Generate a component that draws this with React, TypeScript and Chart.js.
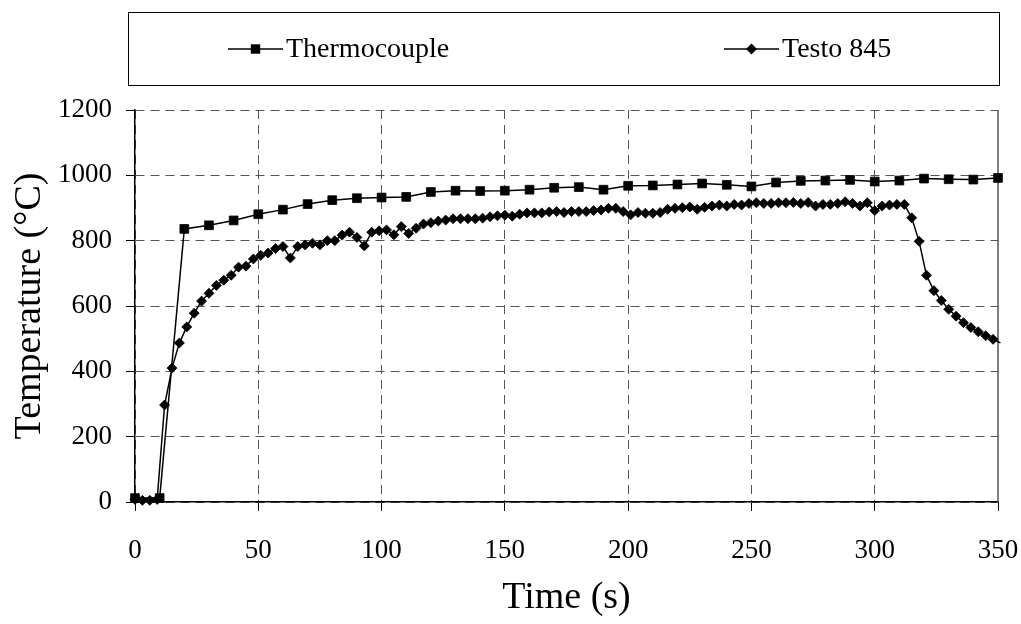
import { useEffect, useRef } from 'react';
import { Chart, registerables } from 'chart.js';

Chart.register(...registerables);

// Thermocouple readings (time in s, temperature in °C)
const thermoTime = [0, 10, 20, 30, 40, 50, 60, 70, 80, 90, 100, 110, 120, 130, 140, 150, 160, 170, 180, 190, 200, 210, 220, 230, 240, 250, 260, 270, 280, 290, 300, 310, 320, 330, 340, 350];
const thermoTemp = [12, 12, 836, 847, 862, 881, 895, 912, 924, 930, 932, 934, 949, 953, 952, 953, 956, 962, 964, 956, 968, 969, 972, 975, 971, 966, 978, 983, 984, 986, 981, 984, 990, 988, 987, 992];

// Testo 845 readings
const testoTime = [0, 3, 6, 9, 12, 15, 18, 21, 24, 27, 30, 33, 36, 39, 42, 45, 48, 51, 54, 57, 60, 63, 66, 69, 72, 75, 78, 81, 84, 87, 90, 93, 96, 99, 102, 105, 108, 111, 114, 117, 120, 123, 126, 129, 132, 135, 138, 141, 144, 147, 150, 153, 156, 159, 162, 165, 168, 171, 174, 177, 180, 183, 186, 189, 192, 195, 198, 201, 204, 207, 210, 213, 216, 219, 222, 225, 228, 231, 234, 237, 240, 243, 246, 249, 252, 255, 258, 261, 264, 267, 270, 273, 276, 279, 282, 285, 288, 291, 294, 297, 300, 303, 306, 309, 312, 315, 318, 321, 324, 327, 330, 333, 336, 339, 342, 345, 348, 351];
const testoTemp = [8, 5, 5, 8, 297, 410, 487, 536, 578, 615, 639, 663, 679, 694, 719, 722, 744, 755, 762, 776, 782, 747, 782, 787, 792, 787, 800, 800, 817, 826, 810, 784, 826, 830, 833, 818, 843, 822, 838, 851, 855, 860, 863, 867, 867, 867, 867, 869, 873, 876, 878, 875, 881, 885, 885, 885, 888, 889, 886, 889, 889, 889, 892, 894, 899, 899, 889, 879, 886, 884, 884, 886, 896, 899, 901, 903, 896, 902, 906, 909, 906, 911, 909, 914, 916, 914, 914, 916, 916, 917, 914, 917, 906, 911, 911, 914, 919, 914, 906, 916, 892, 906, 909, 911, 911, 870, 798, 694, 647, 617, 590, 569, 549, 534, 521, 509, 498, 487];

const xMin = 0;
const xMax = 350;
const xStep = 50;
const yMin = 0;
const yMax = 1200;
const yStep = 200;

const seriesLabels = ['Thermocouple', 'Testo 845'];
const xTitle = 'Time (s)';
const yTitle = 'Temperature (°C)';

const FONT = '"Liberation Serif", "Times New Roman", serif';

export default function App() {
  const ref = useRef<HTMLCanvasElement | null>(null);

  useEffect(() => {
    document.body.style.margin = '0';
    const canvas = ref.current;
    if (!canvas) return;

    const drawMarker = (ctx: CanvasRenderingContext2D, style: string, x: number, y: number) => {
      ctx.fillStyle = '#000';
      ctx.beginPath();
      if (style === 'rect') {
        ctx.rect(x - 4.7, y - 4.7, 9.4, 9.4);
      } else {
        ctx.moveTo(x, y - 5.4);
        ctx.lineTo(x + 5.4, y);
        ctx.lineTo(x, y + 5.4);
        ctx.lineTo(x - 5.4, y);
        ctx.closePath();
      }
      ctx.fill();
    };

    const legendBox = {
      id: 'legendBox',
      afterDraw(chart: any) {
        const ctx = chart.ctx as CanvasRenderingContext2D;
        ctx.save();
        ctx.strokeStyle = '#000';
        ctx.lineWidth = 1;
        ctx.strokeRect(128.5, 12.5, 871, 73);
        const entries = [
          { x0: 228, x1: 283, tx: 286 },
          { x0: 724, x1: 779, tx: 782 },
        ];
        const y = 49;
        chart.data.datasets.forEach((ds: any, i: number) => {
          const e = entries[i];
          ctx.strokeStyle = '#000';
          ctx.lineWidth = 1.5;
          ctx.beginPath();
          ctx.moveTo(e.x0, y);
          ctx.lineTo(e.x1, y);
          ctx.stroke();
          drawMarker(ctx, ds.pointStyle, (e.x0 + e.x1) / 2, y);
          ctx.fillStyle = '#000';
          ctx.font = `28px ${FONT}`;
          ctx.textBaseline = 'middle';
          ctx.textAlign = 'left';
          ctx.fillText(ds.label, e.tx, y + 1);
        });
        ctx.restore();
      },
    };

    const rightEdge = {
      id: 'rightEdge',
      beforeDatasetsDraw(chart: any) {
        const { ctx, chartArea } = chart;
        ctx.save();
        ctx.strokeStyle = '#555';
        ctx.lineWidth = 1.5;
        ctx.beginPath();
        ctx.moveTo(chartArea.right, chartArea.top);
        ctx.lineTo(chartArea.right, chartArea.bottom);
        ctx.stroke();
        ctx.restore();
      },
    };

    const chart = new Chart(canvas, {
      type: 'line',
      data: {
        datasets: [
          {
            label: seriesLabels[0],
            data: thermoTime.map((t, i) => ({ x: t, y: thermoTemp[i] })),
            borderColor: '#000',
            backgroundColor: '#000',
            borderWidth: 1.5,
            pointStyle: 'rect',
            pointRadius: 6.2,
            pointBorderWidth: 0.8,
            pointBorderColor: '#000',
            pointBackgroundColor: '#000',
            tension: 0,
            clip: 10,
          },
          {
            label: seriesLabels[1],
            data: testoTime.map((t, i) => ({ x: t, y: testoTemp[i] })),
            borderColor: '#000',
            backgroundColor: '#000',
            borderWidth: 1.5,
            pointStyle: 'rectRot',
            pointRadius: testoTime.map((t) => (t > xMax ? 0 : 5)),
            pointBorderWidth: 0.8,
            pointBorderColor: '#000',
            pointBackgroundColor: '#000',
            tension: 0,
            clip: { left: 10, top: 10, bottom: 10, right: 4 },
          },
        ],
      },
      options: {
        animation: false,
        responsive: false,
        devicePixelRatio: 1,
        events: [],
        layout: { padding: { top: 110, right: 23, left: 0, bottom: 0 } },
        plugins: {
          legend: { display: false },
          tooltip: { enabled: false },
        },
        scales: {
          x: {
            type: 'linear',
            min: xMin,
            max: xMax,
            afterFit(scale: any) {
              scale.height = 122;
              scale.paddingLeft = 0;
              scale.paddingRight = 0;
            },
            ticks: {
              stepSize: xStep,
              color: '#000',
              font: { family: FONT, size: 27 },
              padding: 24,
              maxRotation: 0,
              callback: (v: any) => String(v),
            },
            grid: {
              color: (c: any) => (c.tick && c.tick.value === xMax ? 'rgba(0,0,0,0)' : '#555'),
              lineWidth: 1,
              tickLength: 9,
              tickColor: '#000',
              tickBorderDash: [],
              tickWidth: 1,
            },
            border: { display: true, color: '#000', width: 1.5, dash: [9, 6] },
            title: {
              display: true,
              text: xTitle,
              color: '#000',
              font: { family: FONT, size: 38 },
              padding: { top: 0, bottom: 3 },
            },
          },
          y: {
            type: 'linear',
            min: yMin,
            max: yMax,
            afterFit(scale: any) {
              scale.width = 135;
              scale.paddingTop = 0;
              scale.paddingBottom = 0;
            },
            ticks: {
              stepSize: yStep,
              color: '#000',
              font: { family: FONT, size: 27 },
              padding: 14,
              callback: (v: any) => String(v),
            },
            grid: {
              color: '#555',
              lineWidth: 1,
              tickLength: 9,
              tickColor: '#000',
              tickBorderDash: [],
              tickWidth: 1,
            },
            border: { display: true, color: '#000', width: 1.5, dash: [9, 6] },
            title: {
              display: true,
              text: yTitle,
              color: '#000',
              font: { family: FONT, size: 38 },
              padding: { top: 7, bottom: 0 },
            },
          },
        },
      },
      plugins: [legendBox, rightEdge],
    });

    return () => chart.destroy();
  }, []);

  return (
    <div style={{ position: 'fixed', left: 0, top: 0, width: 1021, height: 624, background: '#fff' }}>
      <canvas ref={ref} width={1021} height={624} style={{ width: 1021, height: 624, display: 'block' }} />
    </div>
  );
}
